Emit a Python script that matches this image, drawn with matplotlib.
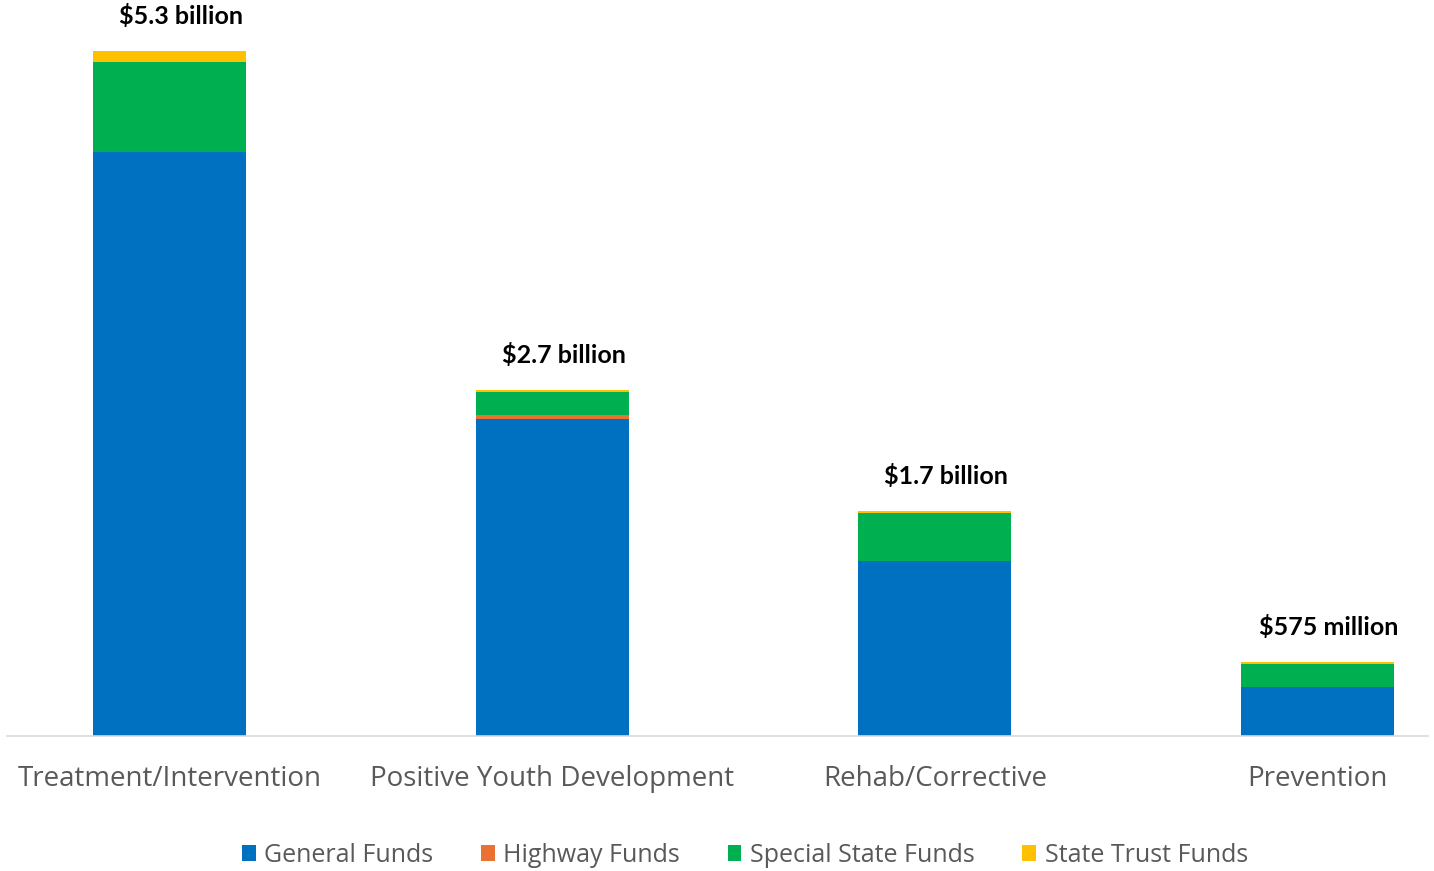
import numpy as np
import matplotlib
matplotlib.use('Agg')
import matplotlib.pyplot as plt
from matplotlib.patches import Patch

# spending by program area, in billions of dollars
categories = ['Treatment/Intervention', 'Positive Youth Development', 'Rehab/Corrective', 'Prevention']
general_funds = [4.52, 2.45, 1.355, 0.38]
highway_funds = [0.0, 0.035, 0.0, 0.0]
special_state_funds = [0.695, 0.175, 0.37, 0.18]
state_trust_funds = [0.085, 0.015, 0.015, 0.015]

series = [
    ('General Funds', general_funds, '#0070C0'),
    ('Highway Funds', highway_funds, '#E97132'),
    ('Special State Funds', special_state_funds, '#00B050'),
    ('State Trust Funds', state_trust_funds, '#FFC000'),
]

font = 'Open Sans'
gray = '#595959'

fig = plt.figure(figsize=(14.34, 8.71), dpi=100)
ax = fig.add_axes([7 / 1434, 135 / 871, 1421 / 1434, 726 / 871])

x = np.arange(len(categories))
bottom = np.zeros(len(categories))
for name, vals, color in series:
    vals = np.array(vals)
    ax.bar(x, vals, width=0.40, bottom=bottom, color=color, label=name, linewidth=0)
    bottom += vals

# total labels above each stack
for xi, total in zip(x, bottom):
    if total >= 1:
        txt = f'${total:.1f} billion'
    else:
        txt = f'${total * 1000:.0f} million'
    ax.annotate(txt, (xi, total), xytext=(11, 35), textcoords='offset pixels',
                ha='center', va='center', fontsize=18, fontweight='bold',
                family='Lato', color='black')

ax.set_xlim(-0.426, 3.289)
ax.set_ylim(0, 5.619)
ax.set_yticks([])
for s in ['top', 'left', 'right']:
    ax.spines[s].set_visible(False)
ax.spines['bottom'].set_color('#D9D9D9')
ax.spines['bottom'].set_linewidth(1.2)

ax.set_xticks(x)
ax.set_xticklabels(categories, fontsize=20, family=font, color=gray)
ax.tick_params(axis='x', length=0, pad=21)

handles = [Patch(facecolor=c, edgecolor='none', label=n) for n, _, c in series]
fig.legend(handles=handles, loc='center', bbox_to_anchor=(745 / 1434, 1 - 855 / 871),
           ncol=4, frameon=False, handlelength=0.55, handleheight=0.6,
           handletextpad=0.35, columnspacing=1.9,
           prop={'family': font, 'size': 18}, labelcolor=gray)

fig.savefig('out.png', dpi=100)
